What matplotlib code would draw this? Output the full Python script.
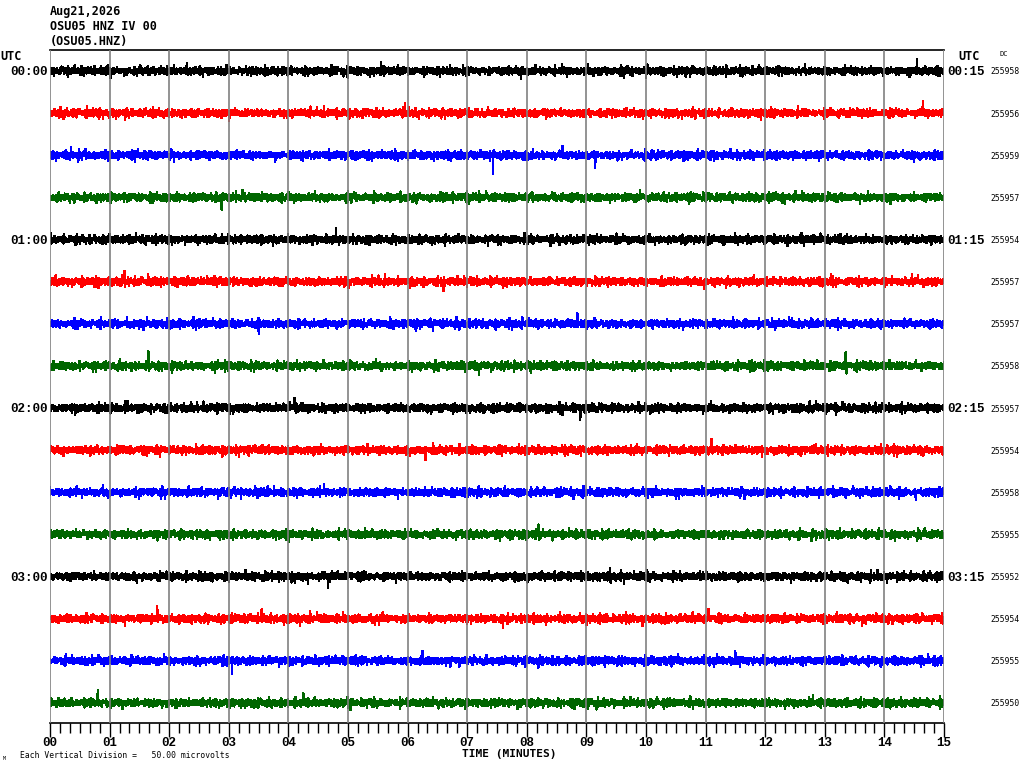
import matplotlib
matplotlib.use("Agg")
import matplotlib.pyplot as plt
import numpy as np

# ---------------- data ----------------
date_label = "Aug21,2026"
station_line = "OSU05 HNZ IV 00"
station_code = "(OSU05.HNZ)"
left_hours = ["00:00", "01:00", "02:00", "03:00"]
right_hours = ["00:15", "01:15", "02:15", "03:15"]
dc_values = [255958, 255956, 255959, 255957, 255954, 255957, 255957, 255958,
             255957, 255954, 255958, 255955, 255952, 255954, 255955, 255950]
trace_colors = ["#000000", "#ff0000", "#0000ff", "#006600"]
minute_labels = ["00", "01", "02", "03", "04", "05", "06", "07",
                 "08", "09", "10", "11", "12", "13", "14", "15"]
scale_text = "Each Vertical Division =   50.00 microvolts"

# typed background noise samples (relative amplitude)
noise_a = [0.12, -0.45, 0.78, -0.31, 0.05, 0.62, -0.88, 0.27, -0.14, 0.51,
           -0.67, 0.33, 0.09, -0.52, 0.71, -0.23, 0.41, -0.95, 0.18, 0.56,
           -0.38, 0.02, -0.74, 0.66, -0.11, 0.29, -0.58, 0.84, -0.06, 0.37,
           -0.49, 0.15, 0.92, -0.27, -0.63, 0.44, 0.08, -0.81, 0.53, -0.19,
           0.25, -0.42, 0.69, -0.35, 0.11, -0.57, 0.76, 0.03, -0.29, 0.48,
           -0.72, 0.21, -0.09, 0.63, -0.46, 0.34, -0.86, 0.17, 0.58, -0.24,
           0.07, -0.61, 0.89, -0.33, 0.22, -0.51, 0.40, -0.15, 0.73, -0.68,
           0.13, 0.31, -0.79, 0.55, -0.04, 0.26, -0.47, 0.81, -0.21, 0.39,
           -0.64, 0.10, 0.47, -0.93, 0.28, -0.12, 0.60, -0.37, 0.19, -0.55,
           0.70, -0.26, 0.04, -0.71, 0.43, -0.17, 0.35]
noise_b = [-0.22, 0.64, -0.08, 0.39, -0.71, 0.15, 0.52, -0.44, 0.03, 0.87,
           -0.36, -0.12, 0.58, -0.65, 0.24, 0.07, -0.53, 0.81, -0.27, 0.34,
           -0.91, 0.46, 0.11, -0.18, 0.69, -0.49, 0.20, -0.02, 0.75, -0.60,
           0.31, -0.38, 0.09, 0.55, -0.83, 0.42, -0.14, 0.27, -0.57, 0.94,
           -0.31, 0.05, 0.61, -0.46, 0.17, -0.73, 0.36, -0.06, 0.50, -0.25,
           0.79, -0.62, 0.13, 0.28, -0.41, 0.66, -0.89, 0.21, -0.10, 0.45,
           -0.54, 0.72, -0.19, 0.01, 0.38, -0.77, 0.57, -0.33, 0.14, -0.48,
           0.85, -0.29, 0.06, 0.49, -0.68, 0.26, -0.15, 0.63, -0.40, 0.18,
           -0.84, 0.32, 0.08, -0.59, 0.74, -0.23, 0.43, -0.05, -0.66]
noise_c = [0.0, 0.1, -0.1, 0.0, 0.9, 0.0, -0.1, 0.1, 0.0, -0.2, 0.1, 0.0,
           -1.0, 0.1, 0.0, 0.2, -0.1, 0.0, 0.1, 0.0, 0.7, -0.1, 0.0, 0.1,
           -0.1, 0.0, 0.2, -0.8, 0.0, 0.1, -0.1, 0.0, 0.1, 0.0, 1.0, -0.1,
           0.0, 0.1, -0.2, 0.0, 0.1, -0.6, 0.0, 0.1, 0.0, -0.1, 0.2, 0.0,
           0.8, 0.0, -0.1, 0.1, -0.9]

# notable spikes per trace: (minute, amplitude, + is up)
spikes = [
    [(5.55, 10), (7.9, -8), (14.55, 9), (2.3, 7)],
    [(14.65, 13), (5.95, 9), (3.0, -8), (9.8, 8)],
    [(7.43, -17), (8.6, 9), (9.15, -10), (14.5, -8), (0.35, 7)],
    [(2.88, -13), (5.1, 7), (9.9, 8)],
    [(8.55, -9), (4.8, 8), (11.3, -7)],
    [(1.25, 9), (6.6, -8), (13.1, 8)],
    [(8.85, 9), (3.5, -8), (12.4, 7)],
    [(1.65, 17), (13.35, 12), (7.2, -8)],
    [(4.1, 10), (8.9, -9), (1.3, 7)],
    [(11.1, 10), (6.3, -8)],
    [(4.6, 9), (10.5, -8), (14.1, 7)],
    [(8.2, 9), (2.6, -7)],
    [(4.67, -13), (9.4, 9), (1.9, 7)],
    [(1.8, 11), (3.55, 9), (11.05, 10), (13.2, 10), (7.6, -9)],
    [(3.05, -13), (11.5, 10), (6.25, 8)],
    [(0.8, 13), (4.25, 8), (12.8, 7)],
]

# ---------------- figure ----------------
W, H = 1024, 768
fig = plt.figure(figsize=(W / 100, H / 100), dpi=100)
fig.patch.set_facecolor("white")

x0, x1 = 50, 944
ytop, ybot = 50, 723
row0, drow = 71, 42.13
ax = fig.add_axes([x0 / W, 1 - ybot / H, (x1 - x0) / W, (ybot - ytop) / H])
n_rows = len(dc_values)
ax.set_xlim(0, 15)
ax.set_ylim((ybot - row0) / drow, (ytop - row0) / drow)

px = 1.0 / drow  # one pixel in row units
n_samp = 3600
t = np.linspace(0, 15, n_samp)
na, nb, nc = len(noise_a), len(noise_b), len(noise_c)
for i in range(n_rows):
    vals = np.array([2.9 * noise_a[(j + 11 * i) % na]
                     + 2.0 * noise_b[(3 * j + 29 * i) % nb]
                     + 3.2 * noise_c[(7 * j + 5 * i) % nc]
                     for j in range(n_samp)])
    for (tm, amp) in spikes[i]:
        k = int(round(tm / 15 * (n_samp - 1)))
        vals[k] += amp
    ax.plot(t, i - vals * px, color=trace_colors[i % 4], lw=0.9, zorder=2,
            antialiased=False)

# vertical minute grid
for m in range(16):
    ax.axvline(m, color="#808080", lw=1.2, zorder=3)

for s in ["left", "right"]:
    ax.spines[s].set_visible(False)
ax.spines["top"].set_color("black")
ax.spines["bottom"].set_color("black")
ax.spines["top"].set_linewidth(1.2)
ax.spines["bottom"].set_linewidth(1.2)
ax.set_yticks([])
ax.set_xticks(range(16))
ax.set_xticks(np.arange(0, 15.0001, 1 / 6), minor=True)
ax.set_xticklabels(minute_labels, fontfamily="Liberation Mono", fontweight="bold", fontsize=9)
ax.tick_params(axis="x", which="major", length=10, width=1, direction="out", pad=0)
ax.tick_params(axis="x", which="minor", length=7, width=1, direction="out")

def ftext(xp, yp, s, **kw):
    fig.text(xp / W, 1 - yp / H, s, **kw)

mono = "DejaVu Sans Mono"
ftext(50, 12, date_label, family=mono, fontweight="bold", fontsize=8.5, va="center")
ftext(50, 27, station_line, family=mono, fontweight="bold", fontsize=8.5, va="center")
ftext(50, 42, station_code, family=mono, fontweight="bold", fontsize=8.5, va="center")
ftext(0, 57, "UTC", family=mono, fontweight="bold", fontsize=8.5, va="center")
ftext(958, 57, "UTC", family=mono, fontweight="bold", fontsize=8.5, va="center")
ftext(999, 54, "DC", family=mono, fontsize=5, va="center")

for h in range(4):
    yy = row0 + 4 * h * drow
    ftext(48, yy + 1, left_hours[h], family="Liberation Mono", fontweight="bold",
          fontsize=9, va="center", ha="right")
    ftext(947, yy + 1, right_hours[h], family="Liberation Mono", fontweight="bold",
          fontsize=9, va="center", ha="left")
for i, dc in enumerate(dc_values):
    ftext(990, row0 + i * drow + 1, str(dc), family=mono, fontsize=5.8, va="center")

ftext(509, 754, "TIME (MINUTES)", family=mono, fontweight="bold", fontsize=8,
      va="center", ha="center")
ftext(20, 755, scale_text, family=mono, fontsize=5.8, va="center")
ftext(3, 758, "M", family=mono, fontsize=3.5, va="center")

fig.savefig("out.png", dpi=100, facecolor="white")
